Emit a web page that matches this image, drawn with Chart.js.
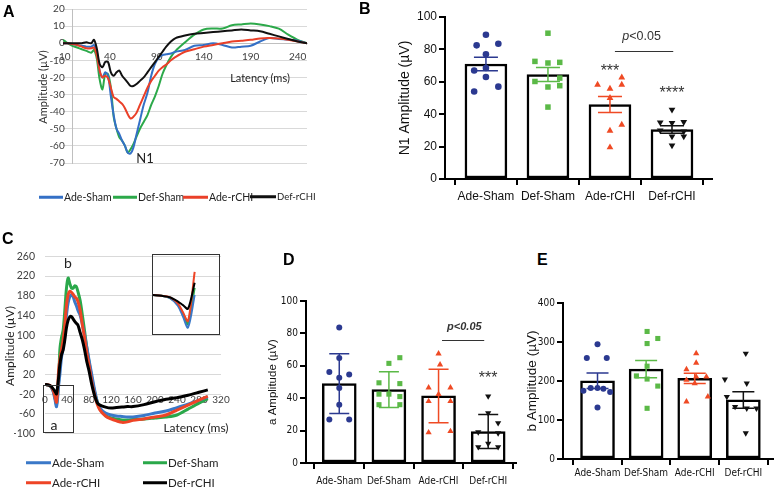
<!DOCTYPE html>
<html>
<head>
<meta charset="utf-8">
<script src="https://cdn.jsdelivr.net/npm/chart.js@4.4.1/dist/chart.umd.min.js"></script>
<style>
  body { margin: 0; width: 780px; height: 489px; position: relative; background: #fff; overflow: hidden; font-family: "Liberation Sans", Arial, sans-serif; }
  canvas { position: absolute; }
  .t { position: absolute; white-space: nowrap; line-height: 1; transform: translate(-50%, -50%); }
  .rot { transform: translate(-50%, -50%) rotate(-90deg); }
  .lg { position: absolute; white-space: nowrap; font-family: Lato, sans-serif; color: #222; line-height: 1; transform: translateY(-50%); display: flex; align-items: center; }
  .lg i { display: inline-block; height: 3px; margin-right: 1px; }
  .letter { position: absolute; font: bold 16px "Liberation Sans", Arial, sans-serif; line-height: 1; }
  .frame { position: absolute; border: 1px solid #333; box-sizing: border-box; }
</style>
</head>
<body>
<canvas id="chartA" width="330" height="215" style="left:0;top:0"></canvas>
<canvas id="chartB" width="440" height="215" style="left:340px;top:0"></canvas>
<canvas id="chartC" width="240" height="210" style="left:0;top:240px"></canvas>
<canvas id="chartD" width="265" height="204" style="left:255px;top:285px"></canvas>
<canvas id="chartE" width="260" height="204" style="left:520px;top:285px"></canvas>
<div class="frame" style="left:152px;top:254px;width:68px;height:81px"><canvas id="chartInset" width="66" height="79" style="left:0;top:0"></canvas></div>
<div class="frame" style="left:43px;top:385px;width:31px;height:48px"></div>

<div class="letter" style="left:3px;top:4px">A</div>
<div class="letter" style="left:359px;top:1px">B</div>
<div class="letter" style="left:2px;top:231px">C</div>
<div class="letter" style="left:283px;top:252px">D</div>
<div class="letter" style="left:537px;top:252px">E</div>

<div class="t rot" style="left:42px;top:87px;font:11px Lato;color:#333">Amplitude (µV)</div>
<div class="t" style="left:260px;top:77px;font:11px Lato;color:#222">Latency (ms)</div>
<div class="t" style="left:145px;top:158px;font:13px Lato;color:#222">N1</div>

<div class="t rot" style="left:9px;top:346px;font:12px Lato;color:#222">Amplitude (µV)</div>
<div class="t" style="left:68px;top:262px;font:14px Lato;color:#222">b</div>
<div class="t" style="left:54px;top:424px;font:14px Lato;color:#222">a</div>
<div class="t" style="left:196px;top:427px;font:12px Lato;color:#222">Latency (ms)</div>

<div class="lg" style="left:39px;top:197px;font-size:10.5px"><i style="width:24px;background:#3470c6"></i>Ade-Sham</div>
<div class="lg" style="left:113px;top:197px;font-size:10.5px"><i style="width:24px;background:#2ca94a"></i>Def-Sham</div>
<div class="lg" style="left:183px;top:197px;font-size:10.5px"><i style="width:25px;background:#ea4029"></i>Ade-rCHI</div>
<div class="lg" style="left:250px;top:197px;font-size:9.5px"><i style="width:26px;background:#111"></i>Def-rCHI</div>

<div class="lg" style="left:26px;top:463px;font-size:11.5px"><i style="width:25px;background:#3a78c8"></i>Ade-Sham</div>
<div class="lg" style="left:143px;top:463px;font-size:11.5px"><i style="width:24px;background:#2aa84a"></i>Def-Sham</div>
<div class="lg" style="left:26px;top:483px;font-size:11.5px"><i style="width:25px;background:#ee4426"></i>Ade-rCHI</div>
<div class="lg" style="left:143px;top:483px;font-size:11.5px"><i style="width:24px;background:#000"></i>Def-rCHI</div>

<script>
Chart.defaults.font.family = '"Liberation Sans", Arial, sans-serif';
Chart.defaults.animation = false;

const groups = ['Ade-Sham', 'Def-Sham', 'Ade-rCHI', 'Def-rCHI'];
const lineColors = ['#3470c6', '#2ca94a', '#ea4029', '#111111'];
const ergColors = ['#3a78c8', '#2aa84a', '#ee4426', '#000000'];
const dotColors = ['#2b3990', '#5bb947', '#ef4a24', '#111111'];
const sans = '"Liberation Sans", Arial, sans-serif';
const condensed = '"DejaVu Sans Condensed", "Liberation Sans", sans-serif';

// A - VEP traces
const vepTime = [-10, -5, 0, 5, 10, 15, 20, 23, 26, 29, 32, 35, 38, 41, 44, 47, 50, 53, 56, 59, 62, 65, 68,
  72, 76, 80, 84, 88, 92, 96, 100, 105, 110, 120, 130, 140, 150, 160, 170, 180, 190, 200, 210, 220, 230, 240, 250];
const vepTicks = [-10, 40, 90, 140, 190, 240];
const vepAdeSham = [0, 0, -0.5, -1, -1.5, -2, -2, -1, -5, -16, -20, -17, -19, -31, -42, -50, -53, -57, -60, -64, -64.5, -61, -54,
  -45, -36, -29, -19, -12, -8.5, -7, -6.5, -6, -5, -4, -1.5, -1, 0, -1, -2.5, -2, -1.5, 1, 3, 2.5, 2, 1.5, 0];
const vepDefSham = [2, 0, -1.5, -2.5, -3.5, -4.5, -5.5, -4, -9, -21, -27, -18, -18, -26, -43, -50, -55, -57, -60, -64, -62, -59, -55,
  -50, -46, -42, -36, -31, -25, -18, -13, -8, -4.5, 0.5, 5, 8, 8.6, 8.6, 10.5, 11, 11.5, 11, 10, 8.5, 5, 2, 0];
const vepAdeRchi = [0, 0, -0.5, -1, -2, -3, -3, -2.5, -7, -16, -20, -19, -20.5, -26, -31.5, -32.5, -34, -35.5, -38, -41.5, -44, -43, -41,
  -36, -31, -26, -22, -19, -16, -14, -12.5, -10, -8, -5, -3.5, -2, -1, 0, 1, 1.5, 2, 2.8, 3, 2.7, 2, 1, 0];
const vepDefRchi = [0, 0, 0, 0, 0, 0.5, 0, 2, -3, -12, -14, -11, -11, -17, -19, -17, -16, -19, -21, -23, -25, -25, -24,
  -22, -20, -17, -14, -11, -8, -5, -2, 1, 3, 4.5, 5.5, 6, 6.5, 7, 7.5, 8, 7.5, 7, 5.5, 4, 2.5, 1, 0];

// B - N1 amplitude (uV), mean +/- SEM and single animals
const n1Mean = [71, 64.5, 46, 30.5];
const n1Sem = [4.2, 4.3, 5, 2.3];
const n1AdeSham = [89, 82.5, 83.5, 77, 67, 68.5, 63, 54, 57];
const n1DefSham = [90, 72.6, 71.6, 72, 62.3, 60.2, 56.8, 57.6, 44.4];
const n1AdeRchi = [58.2, 62.7, 58.2, 55.7, 50, 33.5, 29.8, 19.5];
const n1DefRchi = [42.8, 34.9, 34.6, 35.2, 30, 29.4, 26.3, 26.3, 20.7];
const n1Jitter = [
  [0, -0.15, 0.2, 0, -0.19, 0, 0, -0.19, 0.2],
  [0, -0.21, 0, 0.19, 0.19, -0.21, 0, 0.19, 0],
  [-0.2, 0.19, 0.19, 0, 0, 0.19, 0, 0],
  [0, -0.19, 0, 0.19, -0.19, 0.19, 0, 0.19, 0]
];

// C - ERG traces
const ergTime = [0, 5, 10, 15, 18, 21, 25, 27, 30, 33, 36, 39, 42, 45, 48, 51, 54, 57, 60, 64, 68, 72, 76, 80, 85, 90, 95, 100,
  110, 120, 130, 140, 150, 160, 180, 200, 220, 240, 260, 280, 296];
const ergAdeSham = [0, -1, -4, -15, -30, -45, 0, 20, 55, 75, 105, 140, 165, 178, 182, 178, 168, 160, 150, 140, 122, 100, 75, 50, 20, -10, -35, -48,
  -58, -62, -64, -65, -66, -66, -63, -58, -54, -47, -40, -32, -25];
const ergDefSham = [0, -1, -4, -13, -26, -40, 10, 70, 95, 110, 150, 195, 216, 205, 196, 195, 200, 198, 188, 170, 140, 108, 75, 46, 14, -14, -35, -50,
  -63, -68, -70, -72, -72, -71, -70, -68, -66, -62, -50, -38, -29];
const ergAdeRchi = [0, -1, -3, -12, -24, -36, 32, 50, 70, 90, 120, 160, 182, 189, 187, 183, 178, 175, 168, 150, 120, 95, 64, 40, 6, -20, -40, -52,
  -64, -70, -74, -77, -76, -73, -70, -66, -62, -52, -42, -32, -24];
const ergDefRchi = [0, -1, -3, -9, -14, -19, 17, 40, 60, 70, 90, 115, 130, 137, 138, 133, 128, 124, 120, 105, 90, 70, 46, 28, 0, -22, -37, -42,
  -46, -48, -47, -46, -45, -45, -41, -35, -30, -27, -22, -16, -11];
const insetEnd = 25;

// D - a-wave amplitude, mean +/- SD
const aMean = [49, 45.3, 41.4, 19.4];
const aSd = [18.5, 11, 16.5, 10.5];
const aAdeSham = [83.6, 64.8, 56.2, 54.6, 52.7, 46.3, 36, 26.8, 26.8];
const aDefSham = [65, 61.5, 49.5, 49, 42.5, 42.5, 41, 36, 36];
const aAdeRchi = [67.5, 60.7, 46.5, 46.5, 42.4, 38.1, 38.1, 18.8, 19.6];
const aDefRchi = [41.2, 30.9, 19.1, 24.7, 18.5, 12, 9.9, 9.9];
const aJitter = [
  [0, 0, -0.2, 0.2, 0, 0, 0, -0.2, 0.2],
  [0.22, 0, -0.2, 0.22, -0.2, 0, 0.22, -0.2, 0.22],
  [0, 0.03, -0.2, 0.24, 0, -0.2, 0.24, -0.2, 0.24],
  [0, 0, -0.2, 0.2, 0.2, 0, 0.2, -0.2]
];

// E - b-wave amplitude, mean +/- SEM
const bMean = [200.7, 230.5, 206.8, 151.4];
const bSem = [20, 22, 13, 21];
const bAdeSham = [294, 259, 259, 175, 182, 182, 180, 172, 132];
const bDefSham = [327, 309, 296, 238, 213, 205, 187, 130];
const bAdeRchi = [270.6, 246.6, 229.7, 210.9, 210.9, 202.4, 194, 147, 159.8];
const bDefRchi = [270.6, 204.2, 194, 159.8, 134, 130, 130, 66.4];
const bJitter = [
  [0, -0.22, 0.19, -0.29, -0.14, 0, 0.12, 0.26, 0],
  [0.02, 0.24, 0.02, 0.02, -0.2, 0.02, 0.24, 0.02],
  [0.03, 0.03, -0.17, 0.03, 0.24, -0.17, 0, -0.17, 0.27],
  [0.05, -0.38, 0.07, -0.34, -0.17, 0.07, 0.27, 0.05]
];

function traces(time, series, colors, width) {
  const order = [2, 3, 1, 0]; // black on top
  return series.map((vals, i) => ({
    label: groups[i],
    data: vals.map((v, k) => ({ x: time[k], y: v })),
    borderColor: colors[i],
    borderWidth: width,
    pointRadius: 0,
    tension: 0.3,
    order: order[i]
  }));
}

const excelTicks = { font: { family: 'Lato', size: 10 }, color: '#404040' };

// Panel A
new Chart(document.getElementById('chartA'), {
  type: 'line',
  data: { datasets: traces(vepTime, [vepAdeSham, vepDefSham, vepAdeRchi, vepDefRchi], lineColors, 2) },
  options: {
    responsive: false,
    layout: { padding: { left: 63, right: 23, top: 6, bottom: 52 } },
    plugins: { legend: { display: false }, tooltip: { enabled: false } },
    scales: {
      x: {
        type: 'linear', min: -10, max: 250, position: { y: 0 },
        afterBuildTicks: s => { s.ticks = vepTicks.map(v => ({ value: v })); },
        grid: { display: false, drawTicks: false },
        border: { color: '#bfbfbf' },
        ticks: { ...excelTicks, padding: 8, maxRotation: 0, autoSkip: false }
      },
      y: {
        min: -70, max: 20, position: { x: 0 },
        // labels sit right on the crossing axis, trailing spaces push them off it
        ticks: { ...excelTicks, stepSize: 10, callback: v => v + '   ' },
        grid: { color: '#d9d9d9', tickLength: 5 },
        border: { color: '#bfbfbf' }
      }
    }
  }
});

// Panel C
new Chart(document.getElementById('chartC'), {
  type: 'line',
  data: { datasets: traces(ergTime, [ergAdeSham, ergDefSham, ergAdeRchi, ergDefRchi], ergColors, 3) },
  options: {
    responsive: false,
    layout: { padding: { left: 14, right: 19, top: 11, bottom: 9 } },
    plugins: { legend: { display: false }, tooltip: { enabled: false } },
    scales: {
      x: {
        type: 'linear', min: 0, max: 320, position: { y: 0 },
        grid: { display: false, drawTicks: false },
        border: { display: false },
        ticks: { ...excelTicks, stepSize: 40, padding: 9, maxRotation: 0 }
      },
      y: {
        min: -100, max: 260,
        afterFit: s => { s.width = 31; },
        ticks: { font: { family: 'Lato', size: 10.5 }, color: '#404040', stepSize: 40, padding: 10 },
        grid: { color: '#d9d9d9', drawTicks: false },
        border: { display: false }
      }
    }
  }
});

// inset of panel C: zoom on the a-wave
const insetCount = ergTime.filter(t => t <= insetEnd).length;
new Chart(document.getElementById('chartInset'), {
  type: 'line',
  data: {
    datasets: traces(ergTime.slice(0, insetCount),
      [ergAdeSham, ergDefSham, ergAdeRchi, ergDefRchi].map(s => s.slice(0, insetCount)), ergColors, 2)
  },
  options: {
    responsive: false,
    layout: { padding: 0 },
    plugins: { legend: { display: false }, tooltip: { enabled: false } },
    scales: {
      x: { type: 'linear', min: 0, max: 39.6, display: false },
      y: { min: -54, max: 55.5, display: false }
    }
  }
});

function errorBars(means, errs, cap, width) {
  return {
    id: 'errorBars',
    afterDatasetsDraw(chart) {
      const { ctx, scales: { x, y } } = chart;
      ctx.save();
      ctx.lineWidth = width;
      means.forEach((m, i) => {
        const cx = x.getPixelForValue(i);
        const top = y.getPixelForValue(m + errs[i]);
        const bot = y.getPixelForValue(m - errs[i]);
        ctx.strokeStyle = dotColors[i];
        ctx.beginPath();
        ctx.moveTo(cx, top); ctx.lineTo(cx, bot);
        ctx.moveTo(cx - cap, top); ctx.lineTo(cx + cap, top);
        ctx.moveTo(cx - cap, bot); ctx.lineTo(cx + cap, bot);
        ctx.stroke();
      });
      ctx.restore();
    }
  };
}

// significance marks, placed in data coordinates
function notes(items, lines) {
  return {
    id: 'notes',
    afterDraw(chart) {
      const { ctx, scales: { x, y } } = chart;
      ctx.save();
      ctx.fillStyle = '#333';
      ctx.strokeStyle = '#333';
      ctx.lineWidth = 1;
      lines.forEach(l => {
        const py = Math.round(y.getPixelForValue(l.y)) + 0.5;
        ctx.beginPath();
        ctx.moveTo(x.getPixelForValue(l.x1), py);
        ctx.lineTo(x.getPixelForValue(l.x2), py);
        ctx.stroke();
      });
      ctx.textBaseline = 'middle';
      ctx.textAlign = 'left';
      items.forEach(it => {
        let w = 0;
        it.parts.forEach(([t, f]) => { ctx.font = f; w += ctx.measureText(t).width; });
        let px = x.getPixelForValue(it.x) - w / 2;
        const py = y.getPixelForValue(it.y);
        it.parts.forEach(([t, f]) => { ctx.font = f; ctx.fillText(t, px, py); px += ctx.measureText(t).width; });
      });
      ctx.restore();
    }
  };
}

function barPanel(id, c) {
  const shapes = ['circle', 'rect', 'triangle', 'triangle'];
  const dots = c.points.map((vals, g) => ({
    type: 'scatter',
    data: vals.map((v, k) => ({ x: g + c.jitter[g][k], y: v })),
    pointStyle: shapes[g],
    pointRotation: g === 3 ? 180 : 0,
    pointRadius: g === 0 ? c.radius : c.radius + 0.6,
    pointBackgroundColor: dotColors[g],
    pointBorderWidth: 0,
    order: 0
  }));
  const bars = {
    type: 'bar',
    data: c.means.map((m, i) => ({ x: i, y: m })),
    backgroundColor: '#fff',
    borderColor: '#000',
    borderWidth: 2.5,
    borderSkipped: false,
    barThickness: c.barWidth,
    order: 5
  };
  const axisLine = { drawOnChartArea: false, tickLength: 6, color: '#000', lineWidth: 2 };
  const font = { family: c.family, size: c.fontSize };
  new Chart(document.getElementById(id), {
    type: 'bar',
    data: { datasets: [...dots, bars] },
    options: {
      responsive: false,
      layout: { padding: c.pad },
      plugins: { legend: { display: false }, tooltip: { enabled: false } },
      scales: {
        x: {
          type: 'linear', min: c.xMin, max: c.xMax, offset: false,
          afterBuildTicks: s => { s.ticks = groups.map((g, i) => ({ value: i })); },
          afterFit: s => { s.height = c.xHeight; },
          ticks: { callback: v => groups[v], autoSkip: false, maxRotation: 0, padding: c.tickPad, color: '#111', font },
          grid: axisLine,
          border: { color: '#000', width: 2 }
        },
        y: {
          min: 0, max: c.yMax,
          afterFit: s => { s.width = c.yWidth; },
          ticks: { stepSize: c.yStep, color: '#111', font, padding: 2 },
          title: { display: true, text: c.title, color: '#111', font: { family: sans, size: c.titleSize }, padding: { top: 4, bottom: 4 } },
          grid: axisLine,
          border: { color: '#000', width: 2 }
        }
      }
    },
    plugins: [errorBars(c.means, c.errs, c.cap, 1.5), notes(c.notes || [], c.lines || [])]
  });
}

// Panel B
barPanel('chartB', {
  means: n1Mean, errs: n1Sem,
  points: [n1AdeSham, n1DefSham, n1AdeRchi, n1DefRchi], jitter: n1Jitter,
  yMax: 100, yStep: 20, title: 'N1 Amplitude (\u00b5V)', titleSize: 14, fontSize: 12, family: sans,
  pad: { left: 53, right: 68, top: 17, bottom: 0 }, yWidth: 52, xHeight: 36, tickPad: 4,
  xMin: -0.66, xMax: 3.645, barWidth: 42, cap: 12, radius: 3.3,
  notes: [
    { x: 2, y: 66.5, parts: [['***', '16px "Liberation Sans"']] },
    { x: 3, y: 53, parts: [['****', '16px "Liberation Sans"']] },
    { x: 2.51, y: 88, parts: [['p', 'italic 12.5px "Liberation Sans"'], ['<0.05', '12.5px "Liberation Sans"']] }
  ],
  lines: [{ x1: 2.08, x2: 3.02, y: 78.8 }]
});

// Panel D
barPanel('chartD', {
  means: aMean, errs: aSd,
  points: [aAdeSham, aDefSham, aAdeRchi, aDefRchi], jitter: aJitter,
  yMax: 100, yStep: 20, title: 'a Amplitude (\u00b5V)', titleSize: 11.5, fontSize: 10, family: condensed,
  pad: { left: 7, right: 4, top: 16, bottom: 0 }, yWidth: 44, xHeight: 26, tickPad: 6,
  xMin: -0.67, xMax: 3.56, barWidth: 34, cap: 10, radius: 3,
  notes: [
    { x: 3, y: 52, parts: [['***', '16px "Liberation Sans"']] },
    { x: 2.52, y: 83.8, parts: [['p<0.05', 'italic bold 11px "Liberation Sans"']] }
  ],
  lines: [{ x1: 2.07, x2: 2.92, y: 75.7 }]
});

// Panel E
barPanel('chartE', {
  means: bMean, errs: bSem,
  points: [bAdeSham, bDefSham, bAdeRchi, bDefRchi], jitter: bJitter,
  yMax: 400, yStep: 100, title: 'b Amplitude (\u00b5V)', titleSize: 13.5, fontSize: 10, family: condensed,
  pad: { left: 0, right: 7, top: 18, bottom: 0 }, yWidth: 43, xHeight: 30, tickPad: 2,
  xMin: -0.71, xMax: 3.61, barWidth: 34, cap: 11, radius: 3
});
</script>
</body>
</html>
